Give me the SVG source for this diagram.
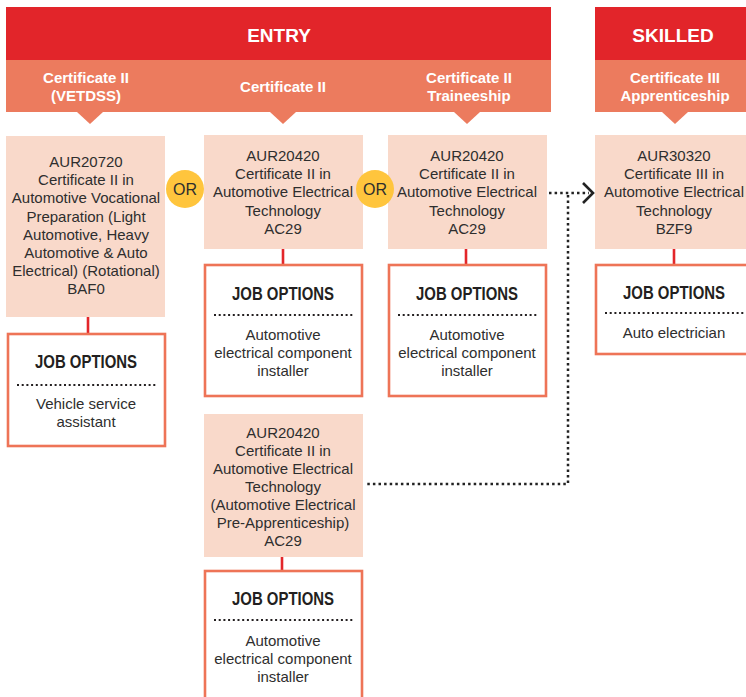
<svg xmlns="http://www.w3.org/2000/svg" width="746" height="697" viewBox="0 0 746 697">
<style>
.bar{fill:#E2252A}
.band{fill:#EC7B5E}
.hd{font-family:"Liberation Sans",Arial,sans-serif;font-weight:bold;font-size:19px;fill:#fff;text-anchor:middle}
.sh{font-family:"Liberation Sans",Arial,sans-serif;font-weight:bold;font-size:15px;fill:#fff;text-anchor:middle}
.node{fill:#F9D9CA}
.nt{font-family:"Liberation Sans",Arial,sans-serif;font-size:15px;fill:#2E2E2E;text-anchor:middle}
.job{fill:#fff;stroke:#EE7457;stroke-width:2.6}
.jt{font-family:"Liberation Sans",Arial,sans-serif;font-weight:bold;font-size:18px;fill:#231F20;text-anchor:middle}
.jd{stroke:#231F20;stroke-width:2;stroke-dasharray:2 2.7;fill:none}
.link{stroke:#E3262A;stroke-width:2.6;fill:none}
.dot{stroke:#222;stroke-width:2.5;stroke-dasharray:2.5 3.1;fill:none}
.or{fill:#FFC53D}
.ort{font-family:"Liberation Sans",Arial,sans-serif;font-size:16px;fill:#2E2E2E;text-anchor:middle}
</style>
<rect width="746" height="697" fill="#fff"/>
<g id="headers">
<rect class="bar" x="6" y="7" width="545" height="53"/>
<rect class="band" x="6" y="60" width="545" height="52"/>
<rect class="bar" x="595" y="7" width="160" height="53"/>
<rect class="band" x="595" y="60" width="160" height="52"/>
<polygon class="band" points="77,112 103,112 90,124"/>
<polygon class="band" points="270,112 296,112 283,124"/>
<polygon class="band" points="454,112 480,112 467,124"/>
<polygon class="band" points="662,112 688,112 675,124"/>
<text class="hd" x="279" y="42">ENTRY</text>
<text class="hd" x="673" y="42">SKILLED</text>
<text class="sh" x="86" y="82.5">Certificate II</text>
<text class="sh" x="86" y="101">(VETDSS)</text>
<text class="sh" x="283" y="92">Certificate II</text>
<text class="sh" x="469" y="82.5">Certificate II</text>
<text class="sh" x="469" y="101">Traineeship</text>
<text class="sh" x="675" y="82.5">Certificate III</text>
<text class="sh" x="675" y="101">Apprenticeship</text>
</g>
<g id="connectors">
<line class="link" x1="88" y1="317" x2="88" y2="334"/>
<line class="link" x1="283" y1="249" x2="283" y2="265"/>
<line class="link" x1="466" y1="249" x2="466" y2="265"/>
<line class="link" x1="674" y1="249" x2="674" y2="265"/>
<line class="link" x1="282" y1="557" x2="282" y2="571"/>
<path class="dot" d="M549,193 H589"/>
<path class="dot" d="M568,195 V484 H366"/>
<polyline points="583,183 593,193 583,203" fill="none" stroke="#222" stroke-width="2.6"/>
</g>
<g id="n1">
<rect class="node" x="6" y="136" width="159" height="181"/>
<text class="nt" x="86" y="167"><tspan x="86">AUR20720</tspan><tspan x="86" dy="18.2">Certificate II in</tspan><tspan x="86" dy="18.2">Automotive Vocational</tspan><tspan x="86" dy="18.2">Preparation (Light</tspan><tspan x="86" dy="18.2">Automotive, Heavy</tspan><tspan x="86" dy="18.2">Automotive &amp; Auto</tspan><tspan x="86" dy="18.2">Electrical) (Rotational)</tspan><tspan x="86" dy="18.2">BAF0</tspan></text>
</g>
<g id="n2">
<rect class="node" x="204" y="135" width="159" height="114"/>
<text class="nt" x="283" y="161"><tspan x="283">AUR20420</tspan><tspan x="283" dy="18.2">Certificate II in</tspan><tspan x="283" dy="18.2">Automotive Electrical</tspan><tspan x="283" dy="18.2">Technology</tspan><tspan x="283" dy="18.2">AC29</tspan></text>
</g>
<g id="n3">
<rect class="node" x="388" y="135" width="159" height="114"/>
<text class="nt" x="467" y="161"><tspan x="467">AUR20420</tspan><tspan x="467" dy="18.2">Certificate II in</tspan><tspan x="467" dy="18.2">Automotive Electrical</tspan><tspan x="467" dy="18.2">Technology</tspan><tspan x="467" dy="18.2">AC29</tspan></text>
</g>
<g id="n4">
<rect class="node" x="595" y="135" width="160" height="114"/>
<text class="nt" x="674" y="161"><tspan x="674">AUR30320</tspan><tspan x="674" dy="18.2">Certificate III in</tspan><tspan x="674" dy="18.2">Automotive Electrical</tspan><tspan x="674" dy="18.2">Technology</tspan><tspan x="674" dy="18.2">BZF9</tspan></text>
</g>
<g id="n5">
<rect class="node" x="204" y="414" width="159" height="143"/>
<text class="nt" x="283" y="437.5"><tspan x="283">AUR20420</tspan><tspan x="283" dy="18">Certificate II in</tspan><tspan x="283" dy="18">Automotive Electrical</tspan><tspan x="283" dy="18">Technology</tspan><tspan x="283" dy="18">(Automotive Electrical</tspan><tspan x="283" dy="18">Pre-Apprenticeship)</tspan><tspan x="283" dy="18">AC29</tspan></text>
</g>
<g id="or1">
<circle class="or" cx="185" cy="189" r="19"/>
<text class="ort" x="185" y="194.5">OR</text>
</g>
<g id="or2">
<circle class="or" cx="375" cy="189" r="19"/>
<text class="ort" x="375" y="194.5">OR</text>
</g>
<g id="j1">
<rect class="job" x="8" y="334" width="157" height="112"/>
<text class="jt" x="86" y="368" textLength="102" lengthAdjust="spacingAndGlyphs">JOB OPTIONS</text>
<line class="jd" x1="17" y1="385" x2="157" y2="385"/>
<text class="nt" x="86" y="409"><tspan x="86">Vehicle service</tspan><tspan x="86" dy="18">assistant</tspan></text>
</g>
<g id="j2">
<rect class="job" x="205" y="265" width="157" height="131"/>
<text class="jt" x="283" y="300" textLength="102" lengthAdjust="spacingAndGlyphs">JOB OPTIONS</text>
<line class="jd" x1="214" y1="315" x2="354" y2="315"/>
<text class="nt" x="283" y="340"><tspan x="283">Automotive</tspan><tspan x="283" dy="18">electrical component</tspan><tspan x="283" dy="18">installer</tspan></text>
</g>
<g id="j3">
<rect class="job" x="389" y="265" width="157" height="131"/>
<text class="jt" x="467" y="300" textLength="102" lengthAdjust="spacingAndGlyphs">JOB OPTIONS</text>
<line class="jd" x1="398" y1="315" x2="538" y2="315"/>
<text class="nt" x="467" y="340"><tspan x="467">Automotive</tspan><tspan x="467" dy="18">electrical component</tspan><tspan x="467" dy="18">installer</tspan></text>
</g>
<g id="j4">
<rect class="job" x="596" y="265" width="170" height="89"/>
<text class="jt" x="674" y="299" textLength="102" lengthAdjust="spacingAndGlyphs">JOB OPTIONS</text>
<line class="jd" x1="605" y1="313" x2="746" y2="313"/>
<text class="nt" x="674" y="337.5">Auto electrician</text>
</g>
<g id="j5">
<rect class="job" x="205" y="571" width="157" height="140"/>
<text class="jt" x="283" y="605" textLength="102" lengthAdjust="spacingAndGlyphs">JOB OPTIONS</text>
<line class="jd" x1="214" y1="620" x2="354" y2="620"/>
<text class="nt" x="283" y="645.5"><tspan x="283">Automotive</tspan><tspan x="283" dy="18">electrical component</tspan><tspan x="283" dy="18">installer</tspan></text>
</g>
</svg>
